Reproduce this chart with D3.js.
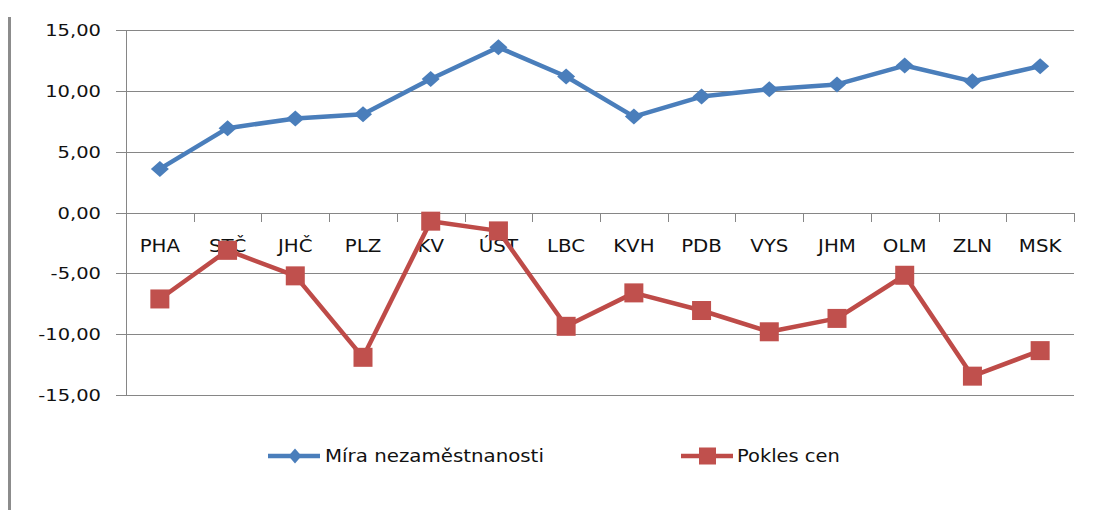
<!DOCTYPE html>
<html><head><meta charset="utf-8">
<script src="https://cdn.jsdelivr.net/npm/d3@7"></script>
<style>html,body{margin:0;padding:0;background:#fff;}svg{display:block;}</style>
</head><body>
<svg id="chart" width="1105" height="510"></svg>
<script>
const categories = ["PHA","STČ","JHČ","PLZ","KV","ÚST","LBC","KVH","PDB","VYS","JHM","OLM","ZLN","MSK"];
const unemployment = [3.6, 6.95, 7.75, 8.1, 11.0, 13.6, 11.2, 7.9, 9.55, 10.15, 10.55, 12.1, 10.8, 12.05];
const priceDrop = [-7.1, -3.1, -5.2, -11.9, -0.7, -1.5, -9.35, -6.6, -8.05, -9.8, -8.7, -5.15, -13.45, -11.35];
const yTicks = [15, 10, 5, 0, -5, -10, -15];
const seriesNames = ["Míra nezaměstnanosti", "Pokles cen"];

(function(){
const svg = d3.select("#chart");
const font = "DejaVu Sans, Verdana, sans-serif";
const pl = 126, pr = 1074, pt = 30.3, pb = 395;
const x = d3.scaleBand().domain(categories).range([pl, pr]).padding(0);
const y = d3.scaleLinear().domain([-15, 15]).range([pb, pt]);
const grid = "#868686";

function fitText(sel, factor) {
  sel.each(function(){
    const w = this.getComputedTextLength();
    d3.select(this).attr("textLength", w*factor).attr("lengthAdjust","spacingAndGlyphs");
  });
}

// outer left border
svg.append("line").attr("x1",9.5).attr("x2",9.5).attr("y1",17).attr("y2",510)
  .attr("stroke","#8c8c8c").attr("stroke-width",3);

// gridlines
svg.append("g").selectAll("line").data(yTicks).join("line")
  .attr("x1", pl - 10).attr("x2", pr)
  .attr("y1", d => Math.round(y(d)) + 0.5).attr("y2", d => Math.round(y(d)) + 0.5)
  .attr("stroke", grid).attr("stroke-width", 1);

// y axis line
svg.append("line").attr("x1", pl+0.5).attr("x2", pl+0.5).attr("y1", y(15)).attr("y2", y(-15))
  .attr("stroke", grid).attr("stroke-width", 1);

// y tick labels
const fmt = v => d3.format(".2f")(v).replace(".", ",").replace("−","-");
svg.append("g").selectAll("text").data(yTicks).join("text")
  .attr("x", 101).attr("y", d => y(d)).attr("dy", "0.36em")
  .attr("text-anchor", "end")
  .attr("font-family", font).attr("font-size", 16.5).attr("fill", "#111")
  .text(d => fmt(d)).call(fitText, 1.18);

// x axis ticks at category boundaries (at y=0)
const bounds = categories.map(c => x(c)).concat([pr]);
svg.append("g").selectAll("line").data(bounds).join("line")
  .attr("x1", d => Math.round(d)+0.5).attr("x2", d => Math.round(d)+0.5)
  .attr("y1", Math.round(y(0))).attr("y2", Math.round(y(0)) + 9)
  .attr("stroke", grid).attr("stroke-width", 1);

// category labels
svg.append("g").selectAll("text").data(categories).join("text")
  .attr("x", d => x(d) + x.bandwidth()/2).attr("y", 252)
  .attr("text-anchor", "middle")
  .attr("font-family", font).attr("font-size", 18).attr("fill", "#111")
  .text(d => d).call(fitText, 1.1);

const line = d3.line().x((d,i) => x(categories[i]) + x.bandwidth()/2).y(d => y(d));

// blue series
svg.append("path").datum(unemployment).attr("d", line)
  .attr("fill","none").attr("stroke","#4A7EBB").attr("stroke-width",4.5).attr("stroke-linejoin","round");
const diamond = (cx, cy, w, h) => `M${cx},${cy-h/2}L${cx+w/2},${cy}L${cx},${cy+h/2}L${cx-w/2},${cy}Z`;
svg.append("g").selectAll("path").data(unemployment).join("path")
  .attr("d", (d,i) => diamond(x(categories[i]) + x.bandwidth()/2, y(d), 18, 16))
  .attr("fill", "#4A7EBB");

// red series
svg.append("path").datum(priceDrop).attr("d", line)
  .attr("fill","none").attr("stroke","#BE4B48").attr("stroke-width",4.5).attr("stroke-linejoin","round");
svg.append("g").selectAll("rect").data(priceDrop).join("rect")
  .attr("x", (d,i) => x(categories[i]) + x.bandwidth()/2 - 9.5)
  .attr("y", d => y(d) - 9.5).attr("width", 19).attr("height", 19)
  .attr("fill", "#C0504D");

// legend
const legY = 456;
const leg = svg.append("g");
leg.append("line").attr("x1",268).attr("x2",320).attr("y1",legY).attr("y2",legY)
  .attr("stroke","#4A7EBB").attr("stroke-width",4.5);
leg.append("path").attr("d", diamond(295, legY, 13, 15)).attr("fill","#4A7EBB");
leg.append("text").attr("x",325).attr("y",legY).attr("dy","0.36em")
  .attr("font-family",font).attr("font-size",18).attr("fill","#111")
  .text(seriesNames[0]).call(fitText, 1.1);
leg.append("line").attr("x1",681).attr("x2",733).attr("y1",legY).attr("y2",legY)
  .attr("stroke","#BE4B48").attr("stroke-width",4.5);
leg.append("rect").attr("x",699).attr("y",legY-8.5).attr("width",17).attr("height",17).attr("fill","#C0504D");
leg.append("text").attr("x",737).attr("y",legY).attr("dy","0.36em")
  .attr("font-family",font).attr("font-size",18).attr("fill","#111")
  .text(seriesNames[1]).call(fitText, 1.08);
})();
</script>
</body></html>
